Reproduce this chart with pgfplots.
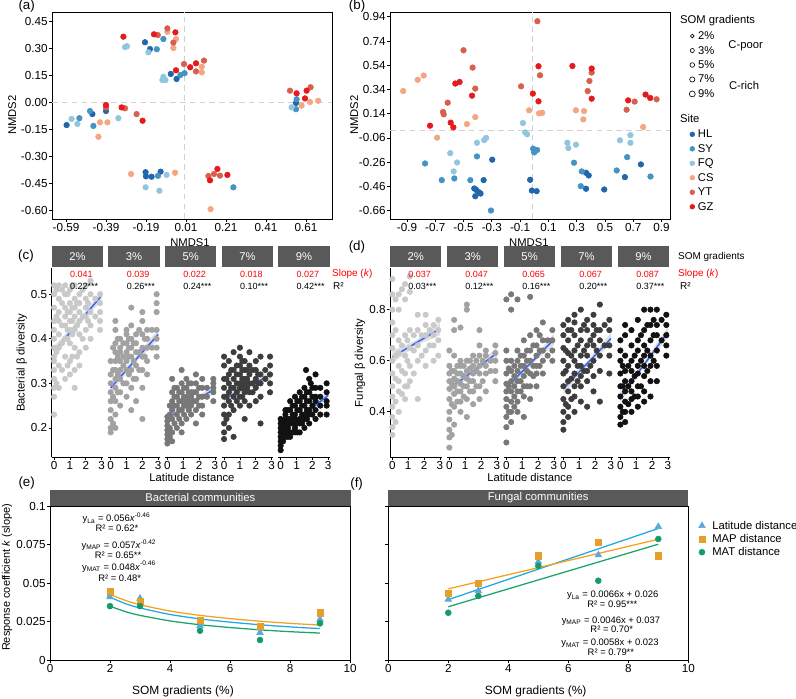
\documentclass[border=0pt]{standalone}
\usepackage{fontspec}
\setmainfont{Liberation Sans}
\usepackage{pgfplots}
\pgfplotsset{compat=1.18}

\definecolor{HL}{HTML}{2166AC}
\definecolor{SY}{HTML}{4393C3}
\definecolor{FQ}{HTML}{92C5DE}
\definecolor{CS}{HTML}{F4A582}
\definecolor{YT}{HTML}{D6604D}
\definecolor{GZ}{HTML}{E41A1C}
\definecolor{stripg}{HTML}{595959}
\definecolor{ga}{HTML}{C9C9C9}
\definecolor{gb}{HTML}{A2A2A2}
\definecolor{gc}{HTML}{787878}
\definecolor{gd}{HTML}{3D3D3D}
\definecolor{ge}{HTML}{111111}
\definecolor{smo}{HTML}{3366FF}
\definecolor{cLat}{HTML}{5BA8DC}
\definecolor{lLat}{HTML}{1FA8E8}
\definecolor{cMAP}{HTML}{E69F2A}
\definecolor{lMAP}{HTML}{F5A11C}
\definecolor{cMAT}{HTML}{139B6C}
\definecolor{lMAT}{HTML}{1AA36B}

\newcommand{\ticksz}{\fontsize{8.3}{9.5}\selectfont}
\newcommand{\labsz}{\fontsize{8}{9.5}\selectfont}
\newcommand{\smsz}{\fontsize{6.4}{7.5}\selectfont}
\newcommand{\midsz}{\fontsize{7.1}{8.5}\selectfont}
\newcommand{\annsz}{\fontsize{6.7}{8}\selectfont}
\newcommand{\pansz}{\fontsize{9.5}{11}\selectfont}

\pgfplotsset{
  base/.style={scale only axis, anchor=north west, font=\ticksz,
    /pgf/number format/assume math mode=true,
    tick align=outside, major tick length=2pt,
    tick style={black, line width=0.5pt},
    axis line style={line width=0.6pt},
    tick label style={inner sep=1pt},
    tick pos=left},
  fix2/.style={/pgf/number format/fixed, /pgf/number format/fixed zerofill, /pgf/number format/precision=2},
  fix1/.style={/pgf/number format/fixed, /pgf/number format/fixed zerofill, /pgf/number format/precision=1},
  sdot/.style={forget plot, only marks, mark=*, scatter, point meta=y,
    visualization depends on={\thisrow{s}\as\ms},
    scatter/@pre marker code/.append style={/tikz/mark size={1.1*\ms}},
    scatter/use mapped color={draw=#1, fill=#1}},
  facet/.style={base, width=1.2875cm, height=4.745cm, xmin=-0.15, xmax=3.1,
    xtick={0,1,2,3}, axis x line*=bottom, x axis line style={-}},
  fc/.style={facet, ymin=0.134, ymax=0.56, ytick={0.2,0.3,0.4,0.5}, yticklabel style={fix1}},
  fd/.style={facet, ymin=0.222, ymax=0.965, ytick={0.4,0.6,0.8}, yticklabel style={fix1}},
  first/.style={axis y line*=left, y axis line style={-}},
  rest/.style={hide y axis},
  pts/.style={only marks, mark=*, mark size=1.95pt, color=#1},
  band/.style={fill=black!40, draw=none, opacity=0.3},
  fitl/.style={color=smo, line width=1.1pt},
  legimg/.style={legend image code/.code={\path (0cm,0cm) (0.2cm,0cm); \draw[##1] plot coordinates {(0.1cm,0cm)};}},
}

\begin{document}
\begin{tikzpicture}
\useasboundingbox (0,0) rectangle (19.9cm,-17.45cm);

% ---------------- (a)
\begin{axis}[base, at={(1.3cm,-0.3cm)}, width=7cm, height=5.175cm,
  xmin=-0.66, xmax=0.74, ymin=-0.65, ymax=0.50,
  xtick={-0.59,-0.39,-0.19,0.01,0.21,0.41,0.61},
  ytick={-0.60,-0.45,-0.30,-0.15,0,0.15,0.30,0.45},
  xticklabel style={fix2}, yticklabel style={fix2},
  legimg, legend cell align=left,
  legend style={at={(axis description cs:2.2714,0.9145)}, anchor=north west, draw=none, fill=none,
    inner sep=0pt, outer sep=0pt, row sep=1.3pt, column sep=1pt, font=\labsz,
    nodes={inner sep=0pt, text height=7pt, text depth=2pt}}]
\addplot[forget plot, black!18, line width=0.7pt, dash pattern=on 4pt off 3pt] coordinates {(0,-0.65)(0,0.50)};
\addplot[forget plot, black!18, line width=0.7pt, dash pattern=on 4pt off 3pt] coordinates {(-0.66,0)(0.74,0)};
\addplot[sdot=HL] table[row sep=\\]{x y s\\
-0.195 0.332 1.9\\ -0.17 0.294 1.9\\ -0.066 0.156 1.75\\ -0.037 0.128 1.75\\ 0.56 -0.005 1.9\\
-0.587 -0.128 1.2\\ -0.458 -0.067 1.2\\ -0.39 -0.05 1.2\\ -0.192 -0.39 0.9\\ -0.19 -0.413 0.9\\
-0.162 -0.415 0.9\\ -0.117 -0.387 0.9\\};
\addplot[sdot=SY] table[row sep=\\]{x y s\\
-0.136 0.293 1.9\\ -0.103 0.35 1.9\\ 0.003 0.16 1.75\\ -0.018 0.15 1.75\\ 0.563 0.015 1.9\\
0.56 -0.04 1.9\\ -0.523 -0.09 1.2\\ -0.47 -0.05 1.2\\ -0.453 -0.133 1.2\\ -0.13 -0.41 0.9\\
0.247 -0.474 0.9\\};
\addplot[sdot=FQ] table[row sep=\\]{x y s\\
-0.285 0.31 1.9\\ -0.295 0.305 1.9\\ -0.178 0.276 1.9\\ -0.103 0.14 1.75\\ -0.108 0.122 1.75\\
-0.093 0.122 1.75\\ 0.538 -0.03 1.9\\ -0.562 -0.094 1.2\\ -0.533 -0.122 1.2\\ -0.328 -0.09 1.2\\
-0.087 -0.405 0.9\\ -0.192 -0.474 0.9\\ -0.123 -0.493 0.9\\};
\addplot[sdot=CS] table[row sep=\\]{x y s\\
-0.083 0.39 1.9\\ -0.04 0.35 1.9\\ -0.053 0.30 1.9\\ 0.089 0.196 1.75\\ 0.089 0.165 1.75\\
0.588 -0.02 1.9\\ 0.63 0.0 1.9\\ 0.671 0.007 1.9\\ -0.42 -0.113 1.2\\ -0.383 -0.113 1.2\\
-0.428 -0.193 1.2\\ -0.265 -0.40 0.9\\ -0.045 -0.393 0.9\\ 0.133 -0.595 0.9\\};
\addplot[sdot=YT] table[row sep=\\]{x y s\\
-0.131 0.372 1.9\\ -0.083 0.409 1.9\\ -0.053 0.33 1.9\\ 0.0 0.211 1.75\\ 0.06 0.17 1.75\\
0.10 0.23 1.75\\ 0.53 0.063 1.9\\ 0.633 0.082 1.9\\ -0.39 -0.03 1.2\\ -0.295 -0.035 1.2\\
-0.237 -0.067 1.2\\ 0.122 -0.411 0.9\\ 0.15 -0.40 0.9\\ 0.18 -0.409 0.9\\};
\addplot[sdot=GZ] table[row sep=\\]{x y s\\
-0.303 0.363 1.9\\ -0.15 0.376 1.9\\ -0.043 0.387 1.9\\ -0.04 0.176 1.75\\ 0.031 0.193 1.75\\
0.06 0.215 1.75\\ 0.563 0.048 1.9\\ 0.613 0.063 1.9\\ 0.605 0.02 1.9\\ -0.39 -0.017 1.2\\
-0.312 -0.03 1.2\\ -0.207 -0.104 1.2\\ 0.167 -0.372 0.9\\ 0.13 -0.435 0.9\\ 0.217 -0.405 0.9\\};
\addlegendimage{only marks, mark=o, mark size=1.3pt, black, line width=0.45pt}\addlegendentry{2\%}
\addlegendimage{only marks, mark=o, mark size=1.45pt, black, line width=0.45pt}\addlegendentry{3\%}
\addlegendimage{only marks, mark=o, mark size=1.65pt, black, line width=0.45pt}\addlegendentry{5\%}
\addlegendimage{only marks, mark=o, mark size=1.85pt, black, line width=0.45pt}\addlegendentry{7\%}
\addlegendimage{only marks, mark=o, mark size=2.1pt, black, line width=0.45pt}\addlegendentry{9\%}
\end{axis}

% ---------------- (b)
\begin{axis}[base, at={(9.75cm,-0.3cm)}, width=7cm, height=5.175cm,
  xmin=-1.02, xmax=0.96, ymin=-0.73, ymax=0.98,
  xtick={-0.9,-0.7,-0.5,-0.3,-0.1,0.1,0.3,0.5,0.7,0.9},
  ytick={-0.66,-0.46,-0.26,-0.06,0.14,0.34,0.54,0.74,0.94},
  xticklabel style={fix1}, yticklabel style={fix2},
  legimg, legend cell align=left,
  legend style={at={(axis description cs:1.0643,0.4396)}, anchor=north west, draw=none, fill=none,
    inner sep=0pt, outer sep=0pt, row sep=1.3pt, column sep=1pt, font=\labsz,
    nodes={inner sep=0pt, text height=7pt, text depth=2pt}}]
\addplot[forget plot, black!18, line width=0.7pt, dash pattern=on 4pt off 3pt] coordinates {(-0.01,-0.73)(-0.01,0.98)};
\addplot[forget plot, black!18, line width=0.7pt, dash pattern=on 4pt off 3pt] coordinates {(-1.02,0)(0.96,0)};
\addplot[sdot=HL] table[row sep=\\]{x y s\\
-0.297 -0.24 1.0\\ -0.358 -0.409 1.0\\ -0.424 -0.478 1.2\\ -0.41 -0.49 1.2\\ -0.39 -0.51 1.2\\
-0.417 -0.542 1.2\\ -0.38 -0.52 1.0\\ -0.029 -0.406 1.2\\ -0.017 -0.495 1.2\\ 0.017 -0.50 1.2\\
0.366 -0.348 1.5\\ 0.385 -0.37 1.5\\ 0.366 -0.48 1.5\\ 0.495 -0.486 2.0\\ 0.641 -0.384 1.8\\
0.754 -0.279 1.8\\};
\addplot[sdot=SY] table[row sep=\\]{x y s\\
-0.405 -0.213 1.0\\ -0.772 -0.271 1.0\\ -0.654 -0.409 1.2\\ -0.565 -0.395 1.2\\ -0.452 -0.409 1.2\\
-0.306 -0.66 1.0\\ -0.008 -0.149 1.2\\ 0.02 -0.16 1.2\\ 0.0 -0.18 1.2\\ 0.281 -0.265 1.5\\
0.336 -0.337 1.5\\ 0.329 -0.459 1.5\\ 0.657 -0.219 1.8\\ 0.583 -0.329 1.8\\ 0.822 -0.379 1.9\\};
\addplot[sdot=FQ] table[row sep=\\]{x y s\\
-0.405 -0.10 1.0\\ -0.354 -0.078 1.0\\ -0.34 -0.06 1.0\\ -0.594 -0.186 1.2\\ -0.546 -0.263 1.2\\
-0.57 -0.337 1.2\\ -0.08 0.063 1.2\\ -0.064 -0.014 1.2\\ -0.05 -0.03 1.2\\ 0.234 -0.10 1.5\\
0.241 -0.144 1.5\\ 0.295 -0.116 1.5\\ 0.606 -0.08 1.8\\ 0.68 -0.037 1.8\\ 0.68 -0.10 1.8\\};
\addplot[sdot=CS] table[row sep=\\]{x y s\\
-0.824 0.42 1.0\\ -0.782 0.455 1.0\\ -0.927 0.327 1.0\\ -0.417 0.112 1.2\\ -0.476 0.054 1.2\\
-0.687 -0.058 1.2\\ -0.036 0.168 1.2\\ 0.034 0.143 1.2\\ 0.056 0.147 1.2\\ 0.295 0.168 1.5\\
0.352 0.162 1.5\\ 0.347 0.093 1.5\\ 0.77 0.03 2.5\\};
\addplot[sdot=YT] table[row sep=\\]{x y s\\
-0.50 0.664 1.0\\ -0.436 0.521 1.0\\ -0.417 0.347 1.0\\ -0.612 0.231 1.2\\ -0.645 0.154 1.2\\
-0.64 0.135 1.2\\ 0.022 0.904 1.2\\ 0.041 0.457 1.2\\ -0.093 0.366 1.2\\ 0.406 0.48 1.6\\
0.39 0.41 1.6\\ 0.378 0.327 1.6\\ 0.653 0.173 1.8\\ 0.71 0.24 1.8\\ 0.865 0.259 1.8\\};
\addplot[sdot=GZ] table[row sep=\\]{x y s\\
-0.558 0.389 1.0\\ -0.528 0.402 1.0\\ -0.44 0.289 1.0\\ -0.591 0.066 1.2\\ -0.572 0.027 1.2\\
-0.737 0.041 1.2\\ 0.03 0.532 1.2\\ -0.01 0.306 1.2\\ 0.03 0.242 1.2\\ 0.27 0.534 1.6\\
0.406 0.513 1.6\\ 0.406 0.264 1.6\\ 0.664 0.25 1.8\\ 0.787 0.298 1.8\\ 0.82 0.27 1.8\\};
\addlegendimage{only marks, mark=*, mark size=1.7pt, HL}\addlegendentry{HL}
\addlegendimage{only marks, mark=*, mark size=1.7pt, SY}\addlegendentry{SY}
\addlegendimage{only marks, mark=*, mark size=1.7pt, FQ}\addlegendentry{FQ}
\addlegendimage{only marks, mark=*, mark size=1.7pt, CS}\addlegendentry{CS}
\addlegendimage{only marks, mark=*, mark size=1.7pt, YT}\addlegendentry{YT}
\addlegendimage{only marks, mark=*, mark size=1.7pt, GZ}\addlegendentry{GZ}
\end{axis}

% ---------------- (c) facets
\begin{axis}[fc, first, at={(1.2925cm,-6.6875cm)}]
\addplot[pts=ga] coordinates {(0,0.23)(0,0.27)(0,0.29)(0,0.31)(0,0.33)(0,0.35)(0,0.36)(0,0.38)(0,0.40)(0,0.42)(0,0.44)(0,0.47)(0,0.50)(0,0.52)
(0.3,0.29)(0.3,0.34)(0.3,0.38)(0.3,0.41)(0.3,0.44)(0.3,0.46)(0.3,0.49)(0.3,0.52)
(0.7,0.31)(0.7,0.36)(0.7,0.40)(0.7,0.43)(0.7,0.45)(0.7,0.47)(0.7,0.50)(0.7,0.52)
(1.0,0.32)(1.0,0.35)(1.0,0.39)(1.0,0.42)(1.0,0.44)(1.0,0.46)(1.0,0.48)(1.0,0.51)
(1.3,0.29)(1.3,0.33)(1.3,0.38)(1.3,0.42)(1.3,0.45)(1.3,0.47)(1.3,0.49)(1.3,0.52)
(1.6,0.34)(1.6,0.37)(1.6,0.41)(1.6,0.44)(1.6,0.46)(1.6,0.48)(1.6,0.50)
(2.0,0.38)(2.0,0.42)(2.0,0.45)(2.0,0.47)(2.0,0.49)(2.0,0.52)
(2.3,0.40)(2.3,0.43)(2.3,0.46)(2.3,0.50)(2.3,0.53)
(2.9,0.42)(2.9,0.44)(2.9,0.46)(2.9,0.48)(2.9,0.50)
(0.5,0.43)(0.85,0.46)(1.15,0.47)(0.5,0.48)(0.85,0.42)(1.15,0.44)(1.45,0.43)
(0.15,0.30)(0.15,0.37)(0.15,0.45)(0.15,0.51)(0.5,0.33)(0.5,0.39)(0.5,0.51)(0.85,0.34)(0.85,0.40)(0.85,0.50)(1.15,0.36)(1.15,0.41)(1.15,0.52)(1.45,0.36)(1.45,0.48)(1.8,0.40)(1.8,0.45)(1.8,0.51)(2.15,0.44)(2.15,0.48)(2.6,0.45)(2.6,0.49)};
\addplot[band] coordinates {(0,0.360)(1.5,0.4285)(3,0.485)(3,0.509)(1.5,0.4405)(0,0.384)};
\addplot[fitl] coordinates {(0,0.372)(3,0.497)};
\end{axis}
\begin{axis}[fc, rest, at={(2.7075cm,-6.6875cm)}]
\addplot[pts=gb] coordinates {(0,0.19)(0,0.20)(0,0.22)(0,0.24)(0,0.26)(0,0.28)(0,0.30)(0,0.32)(0,0.35)
(0.3,0.23)(0.3,0.26)(0.3,0.29)(0.3,0.31)(0.3,0.33)(0.3,0.35)(0.3,0.37)(0.3,0.39)(0.3,0.42)(0.3,0.44)
(0.6,0.25)(0.6,0.28)(0.6,0.31)(0.6,0.33)(0.6,0.35)(0.6,0.37)(0.6,0.38)(0.6,0.40)
(1.0,0.27)(1.0,0.30)(1.0,0.33)(1.0,0.35)(1.0,0.37)(1.0,0.39)(1.0,0.41)(1.0,0.42)
(1.3,0.24)(1.3,0.29)(1.3,0.33)(1.3,0.36)(1.3,0.38)(1.3,0.40)(1.3,0.43)(1.3,0.47)
(1.6,0.26)(1.6,0.31)(1.6,0.34)(1.6,0.37)(1.6,0.39)(1.6,0.41)
(2.0,0.22)(2.0,0.29)(2.0,0.33)(2.0,0.36)(2.0,0.38)(2.0,0.41)(2.0,0.44)(2.0,0.46)
(2.3,0.32)(2.3,0.35)(2.3,0.38)(2.3,0.40)(2.3,0.42)
(2.9,0.36)(2.9,0.38)(2.9,0.40)(2.9,0.42)(2.9,0.46)(2.9,0.48)(2.9,0.50)
(0.45,0.36)(0.8,0.36)(1.15,0.38)(0.45,0.32)(0.8,0.34)(1.15,0.36)(1.45,0.35)
(0.15,0.27)(0.15,0.33)(0.15,0.38)(0.45,0.28)(0.45,0.40)(0.8,0.30)(0.8,0.39)(1.15,0.32)(1.15,0.40)(1.45,0.31)(1.45,0.39)(1.8,0.33)(1.8,0.37)(1.8,0.42)(2.15,0.36)(2.15,0.40)(2.6,0.38)(2.6,0.42)(0.15,0.21)(0.3,0.20)};
\addplot[band] coordinates {(0,0.278)(1.5,0.344)(3,0.398)(3,0.422)(1.5,0.356)(0,0.302)};
\addplot[fitl] coordinates {(0,0.29)(3,0.41)};
\end{axis}
\begin{axis}[fc, rest, at={(4.125cm,-6.6875cm)}]
\addplot[pts=gc] coordinates {(0,0.165)(0,0.175)(0,0.185)(0,0.195)(0,0.205)(0,0.215)(0,0.225)
(0.3,0.19)(0.3,0.22)(0.3,0.24)(0.3,0.26)(0.3,0.28)(0.3,0.31)
(0.6,0.20)(0.6,0.23)(0.6,0.25)(0.6,0.27)(0.6,0.29)
(0.9,0.19)(0.9,0.21)(0.9,0.24)(0.9,0.26)(0.9,0.28)(0.9,0.30)(0.9,0.33)
(1.2,0.22)(1.2,0.25)(1.2,0.26)(1.2,0.27)(1.2,0.29)(1.2,0.31)
(1.5,0.23)(1.5,0.25)(1.5,0.27)(1.5,0.28)(1.5,0.30)
(1.8,0.21)(1.8,0.24)(1.8,0.26)(1.8,0.28)(1.8,0.30)(1.8,0.32)
(2.2,0.23)(2.2,0.25)(2.2,0.27)(2.2,0.29)(2.2,0.31)
(2.9,0.26)(2.9,0.28)(2.9,0.29)(2.9,0.30)(2.9,0.31)
(0.45,0.25)(0.75,0.26)(1.05,0.27)(1.35,0.26)(0.45,0.27)(0.75,0.24)(1.05,0.25)(1.35,0.28)
(0.15,0.18)(0.15,0.20)(0.15,0.23)(0.45,0.21)(0.45,0.29)(0.75,0.28)(0.75,0.22)(1.05,0.23)(1.05,0.29)(1.35,0.24)(1.35,0.30)(1.65,0.26)(1.65,0.28)(2.0,0.25)(2.0,0.27)(2.0,0.29)(2.5,0.27)(2.5,0.29)(0.3,0.17)(0.15,0.25)};
\addplot[band] coordinates {(0,0.212)(1.5,0.250)(3,0.278)(3,0.298)(1.5,0.260)(0,0.232)};
\addplot[fitl] coordinates {(0,0.222)(3,0.288)};
\end{axis}
\begin{axis}[fc, rest, at={(5.5425cm,-6.6875cm)}]
\addplot[pts=gd] coordinates {(0,0.175)(0,0.19)(0,0.21)(0,0.23)(0,0.25)(0,0.27)(0,0.29)(0,0.31)(0,0.34)(0,0.36)
(0.3,0.20)(0.3,0.23)(0.3,0.26)(0.3,0.28)(0.3,0.30)(0.3,0.32)(0.3,0.35)
(0.6,0.18)(0.6,0.24)(0.6,0.27)(0.6,0.29)(0.6,0.31)(0.6,0.33)(0.6,0.37)
(1.0,0.25)(1.0,0.27)(1.0,0.29)(1.0,0.30)(1.0,0.32)(1.0,0.34)(1.0,0.36)(1.0,0.38)
(1.3,0.22)(1.3,0.26)(1.3,0.28)(1.3,0.30)(1.3,0.31)(1.3,0.33)(1.3,0.35)
(1.6,0.25)(1.6,0.28)(1.6,0.30)(1.6,0.32)(1.6,0.34)(1.6,0.37)
(2.0,0.26)(2.0,0.29)(2.0,0.31)(2.0,0.33)(2.0,0.35)
(2.3,0.21)(2.3,0.27)(2.3,0.30)(2.3,0.32)(2.3,0.36)
(2.9,0.28)(2.9,0.30)(2.9,0.32)(2.9,0.34)(2.9,0.36)
(0.8,0.30)(1.15,0.31)(1.45,0.29)(0.45,0.29)(0.8,0.28)(1.15,0.33)
(0.15,0.22)(0.15,0.27)(0.15,0.31)(0.45,0.25)(0.45,0.33)(0.8,0.26)(0.8,0.32)(0.8,0.34)(1.15,0.27)(1.15,0.29)(1.15,0.35)(1.45,0.31)(1.45,0.33)(1.8,0.28)(1.8,0.30)(1.8,0.33)(2.15,0.30)(2.15,0.32)(2.6,0.31)(2.6,0.33)};
\addplot[band] coordinates {(0,0.255)(1.5,0.2875)(3,0.31)(3,0.33)(1.5,0.2975)(0,0.275)};
\addplot[fitl] coordinates {(0,0.265)(3,0.32)};
\end{axis}
\begin{axis}[fc, rest, at={(6.9575cm,-6.6875cm)}]
\addplot[pts=ge] coordinates {(0,0.15)(0,0.16)(0,0.17)(0,0.18)(0,0.19)(0,0.20)(0,0.21)(0,0.22)
(0.3,0.18)(0.3,0.19)(0.3,0.20)(0.3,0.21)(0.3,0.22)(0.3,0.23)(0.3,0.24)
(0.6,0.18)(0.6,0.19)(0.6,0.21)(0.6,0.22)(0.6,0.24)(0.6,0.26)
(0.9,0.19)(0.9,0.20)(0.9,0.22)(0.9,0.23)(0.9,0.25)(0.9,0.27)
(1.2,0.19)(1.2,0.21)(1.2,0.22)(1.2,0.24)(1.2,0.26)(1.2,0.28)
(1.5,0.20)(1.5,0.22)(1.5,0.23)(1.5,0.25)(1.5,0.27)(1.5,0.29)
(1.8,0.21)(1.8,0.23)(1.8,0.24)(1.8,0.26)(1.8,0.28)(1.8,0.31)
(2.2,0.22)(2.2,0.24)(2.2,0.26)(2.2,0.27)(2.2,0.29)(2.2,0.32)
(2.9,0.23)(2.9,0.25)(2.9,0.26)(2.9,0.28)(2.9,0.30)
(0.45,0.20)(0.75,0.21)(1.05,0.21)(1.35,0.23)(1.65,0.24)(0.45,0.22)(0.75,0.23)(1.05,0.24)(1.35,0.25)(1.65,0.26)(2.0,0.25)(2.5,0.27)(1.6,0.33)
(0.15,0.17)(0.15,0.19)(0.15,0.21)(0.45,0.18)(0.45,0.24)(0.75,0.19)(0.75,0.25)(1.05,0.19)(1.05,0.26)(1.35,0.21)(1.35,0.27)(1.65,0.22)(1.65,0.28)(2.0,0.23)(2.0,0.27)(2.0,0.29)(2.5,0.25)(2.5,0.29)(2.5,0.23)(1.9,0.30)};
\addplot[band] coordinates {(0,0.181)(1.5,0.2275)(3,0.264)(3,0.282)(1.5,0.2355)(0,0.199)};
\addplot[fitl] coordinates {(0,0.19)(3,0.273)};
\end{axis}

% ---------------- (d) facets
\begin{axis}[fd, first, at={(9.75cm,-6.6875cm)}]
\addplot[pts=ga] coordinates {(0,0.31)(0,0.34)(0,0.38)(0,0.42)(0,0.46)(0,0.50)(0,0.55)(0,0.60)(0,0.65)(0,0.70)(0,0.75)(0,0.80)(0,0.86)(0,0.92)
(0.4,0.40)(0.4,0.48)(0.4,0.52)(0.4,0.58)(0.4,0.63)(0.4,0.68)(0.4,0.80)(0.4,0.86)
(0.8,0.45)(0.8,0.50)(0.8,0.55)(0.8,0.62)(0.8,0.70)(0.8,0.84)(0.8,0.90)
(1.1,0.52)(1.1,0.58)(1.1,0.65)(1.1,0.72)(1.1,0.87)(1.1,0.93)
(1.6,0.45)(1.6,0.60)(1.6,0.66)(1.6,0.72)(1.6,0.78)
(2.1,0.58)(2.1,0.64)(2.1,0.70)(2.1,0.74)(2.1,0.78)
(2.6,0.60)(2.6,0.66)(2.6,0.70)(2.6,0.74)
(2.9,0.62)(2.9,0.68)(2.9,0.72)(2.9,0.76)
(0.2,0.36)(0.2,0.44)(0.2,0.53)(0.2,0.62)(0.2,0.72)(0.2,0.84)(0.6,0.47)(0.6,0.56)(0.6,0.66)(0.6,0.88)(0.95,0.50)(0.95,0.60)(0.95,0.68)(1.35,0.55)(1.35,0.64)(1.35,0.70)(1.85,0.62)(1.85,0.70)(2.35,0.66)(2.35,0.72)};
\addplot[band] coordinates {(0,0.59)(1.5,0.66)(3,0.70)(3,0.75)(1.5,0.68)(0,0.64)};
\addplot[fitl] coordinates {(0,0.615)(3,0.725)};
\end{axis}
\begin{axis}[fd, rest, at={(11.175cm,-6.6875cm)}]
\addplot[pts=gb] coordinates {(0,0.26)(0,0.30)(0,0.33)(0,0.37)(0,0.40)(0,0.45)(0,0.49)(0,0.52)(0,0.55)(0,0.58)(0,0.64)
(0.3,0.35)(0.3,0.42)(0.3,0.47)(0.3,0.50)(0.3,0.53)(0.3,0.56)(0.3,0.62)(0.3,0.72)(0.3,0.76)
(0.7,0.40)(0.7,0.44)(0.7,0.48)(0.7,0.51)(0.7,0.55)(0.7,0.58)(0.7,0.60)(0.7,0.73)
(1.1,0.38)(1.1,0.45)(1.1,0.50)(1.1,0.53)(1.1,0.56)(1.1,0.60)(1.1,0.80)(1.1,0.82)
(1.5,0.43)(1.5,0.48)(1.5,0.52)(1.5,0.55)(1.5,0.58)(1.5,0.62)
(1.9,0.45)(1.9,0.50)(1.9,0.55)(1.9,0.58)(1.9,0.62)(1.9,0.66)(1.9,0.72)
(2.3,0.48)(2.3,0.55)(2.3,0.58)(2.3,0.62)(2.3,0.64)
(2.9,0.52)(2.9,0.56)(2.9,0.60)(2.9,0.63)(2.9,0.66)
(0.5,0.52)(0.9,0.54)(1.3,0.57)(0.5,0.58)(0.9,0.50)(1.3,0.52)
(0.15,0.31)(0.15,0.43)(0.15,0.51)(0.5,0.44)(0.5,0.48)(0.5,0.55)(0.9,0.46)(0.9,0.58)(1.3,0.48)(1.3,0.60)(1.7,0.50)(1.7,0.56)(1.7,0.60)(2.1,0.52)(2.1,0.60)(2.6,0.56)(2.6,0.60)(0.15,0.56)};
\addplot[band] coordinates {(0,0.468)(1.5,0.551)(3,0.608)(3,0.652)(1.5,0.569)(0,0.512)};
\addplot[fitl] coordinates {(0,0.49)(3,0.63)};
\end{axis}
\begin{axis}[fd, rest, at={(12.6cm,-6.6875cm)}]
\addplot[pts=gc] coordinates {(0,0.28)(0,0.34)(0,0.38)(0,0.42)(0,0.45)(0,0.48)(0,0.51)(0,0.55)(0,0.60)(0,0.64)(0,0.84)
(0.3,0.36)(0.3,0.40)(0.3,0.44)(0.3,0.48)(0.3,0.52)(0.3,0.56)(0.3,0.60)(0.3,0.80)(0.3,0.86)
(0.7,0.40)(0.7,0.44)(0.7,0.48)(0.7,0.52)(0.7,0.56)(0.7,0.60)(0.7,0.64)(0.7,0.84)
(1.1,0.38)(1.1,0.46)(1.1,0.50)(1.1,0.54)(1.1,0.58)(1.1,0.62)(1.1,0.68)
(1.5,0.45)(1.5,0.50)(1.5,0.55)(1.5,0.60)(1.5,0.64)(1.5,0.70)(1.5,0.85)
(1.9,0.50)(1.9,0.55)(1.9,0.58)(1.9,0.62)(1.9,0.66)(1.9,0.72)
(2.3,0.55)(2.3,0.60)(2.3,0.64)(2.3,0.68)(2.3,0.75)
(2.9,0.60)(2.9,0.64)(2.9,0.68)(2.9,0.72)
(0.5,0.50)(0.9,0.52)(1.3,0.56)(0.5,0.46)(0.9,0.58)(1.3,0.60)
(0.15,0.40)(0.15,0.50)(0.15,0.57)(0.5,0.42)(0.5,0.54)(0.5,0.58)(0.9,0.48)(0.9,0.62)(1.3,0.50)(1.3,0.64)(1.7,0.54)(1.7,0.58)(1.7,0.66)(2.1,0.58)(2.1,0.64)(2.1,0.70)(2.6,0.62)(2.6,0.68)};
\addplot[band] coordinates {(0,0.473)(1.5,0.58)(3,0.661)(3,0.705)(1.5,0.598)(0,0.517)};
\addplot[fitl] coordinates {(0,0.495)(3,0.683)};
\end{axis}
\begin{axis}[fd, rest, at={(14.025cm,-6.6875cm)}]
\addplot[pts=gd] coordinates {(0,0.33)(0,0.36)(0,0.40)(0,0.45)(0,0.50)(0,0.55)(0,0.60)(0,0.65)(0,0.70)(0,0.74)
(0.3,0.38)(0.3,0.42)(0.3,0.48)(0.3,0.52)(0.3,0.58)(0.3,0.63)(0.3,0.68)(0.3,0.72)(0.3,0.76)
(0.7,0.40)(0.7,0.46)(0.7,0.50)(0.7,0.55)(0.7,0.60)(0.7,0.64)(0.7,0.70)(0.7,0.75)(0.7,0.78)
(1.1,0.44)(1.1,0.50)(1.1,0.54)(1.1,0.58)(1.1,0.62)(1.1,0.68)(1.1,0.72)(1.1,0.80)
(1.5,0.42)(1.5,0.52)(1.5,0.56)(1.5,0.62)(1.5,0.66)(1.5,0.72)(1.5,0.76)
(1.9,0.48)(1.9,0.54)(1.9,0.60)(1.9,0.66)(1.9,0.70)(1.9,0.74)(1.9,0.78)
(2.3,0.44)(2.3,0.56)(2.3,0.62)(2.3,0.68)(2.3,0.72)(2.3,0.82)
(2.9,0.55)(2.9,0.62)(2.9,0.66)(2.9,0.72)(2.9,0.76)
(0.15,0.43)(0.15,0.56)(0.15,0.64)(0.5,0.45)(0.5,0.53)(0.5,0.62)(0.5,0.72)(0.9,0.52)(0.9,0.58)(0.9,0.66)(1.3,0.56)(1.3,0.64)(1.3,0.74)(1.7,0.58)(1.7,0.68)(2.1,0.64)(2.1,0.72)(2.6,0.66)(2.6,0.74)};
\addplot[band] coordinates {(0,0.469)(1.5,0.58)(3,0.665)(3,0.709)(1.5,0.598)(0,0.513)};
\addplot[fitl] coordinates {(0,0.491)(3,0.687)};
\end{axis}
\begin{axis}[fd, rest, at={(15.45cm,-6.6875cm)}]
\addplot[pts=ge] coordinates {(0,0.35)(0,0.38)(0,0.42)(0,0.46)(0,0.50)(0,0.55)(0,0.60)(0,0.64)(0,0.68)
(0.3,0.36)(0.3,0.40)(0.3,0.44)(0.3,0.48)(0.3,0.52)(0.3,0.56)(0.3,0.62)(0.3,0.70)(0.3,0.74)
(0.7,0.40)(0.7,0.45)(0.7,0.48)(0.7,0.52)(0.7,0.56)(0.7,0.60)(0.7,0.66)(0.7,0.72)
(1.1,0.42)(1.1,0.46)(1.1,0.50)(1.1,0.55)(1.1,0.58)(1.1,0.64)(1.1,0.68)(1.1,0.76)
(1.5,0.44)(1.5,0.48)(1.5,0.54)(1.5,0.58)(1.5,0.62)(1.5,0.66)(1.5,0.72)(1.5,0.80)
(1.9,0.46)(1.9,0.52)(1.9,0.58)(1.9,0.62)(1.9,0.68)(1.9,0.74)(1.9,0.80)
(2.3,0.52)(2.3,0.58)(2.3,0.64)(2.3,0.70)(2.3,0.74)(2.3,0.80)
(2.9,0.62)(2.9,0.66)(2.9,0.70)(2.9,0.74)(2.9,0.78)
(0.15,0.40)(0.15,0.50)(0.15,0.58)(0.5,0.43)(0.5,0.50)(0.5,0.58)(0.9,0.46)(0.9,0.54)(0.9,0.62)(1.3,0.50)(1.3,0.60)(1.3,0.70)(1.7,0.56)(1.7,0.64)(1.7,0.74)(2.1,0.60)(2.1,0.70)(2.1,0.76)(2.6,0.68)(2.6,0.76)};
\addplot[band] coordinates {(0,0.437)(1.5,0.5765)(3,0.69)(3,0.734)(1.5,0.5945)(0,0.481)};
\addplot[fitl] coordinates {(0,0.459)(3,0.712)};
\end{axis}

% ---------------- (e)
\begin{axis}[base, at={(1.25cm,-12.65cm)}, width=7.5cm, height=3.85cm,
  xmin=0, xmax=10, ymin=0, ymax=0.1, xtick={0,2,4,6,8,10},
  ytick={0,0.025,0.05,0.075,0.1}, yticklabels={0,0.025,0.05,0.075,0.1}]
\addplot[forget plot, lMAP, line width=0.9pt, smooth] coordinates {(1.9,0.0435)(2.5,0.0388)(3,0.0359)(4,0.0318)(5,0.0290)(6,0.0269)(7,0.0252)(8,0.0238)(9,0.0227)};
\addplot[forget plot, lLat, line width=0.9pt, smooth] coordinates {(1.9,0.0417)(2.5,0.0367)(3,0.0338)(4,0.0296)(5,0.0267)(6,0.0246)(7,0.0229)(8,0.0215)(9,0.0204)};
\addplot[forget plot, lMAT, line width=0.9pt, smooth] coordinates {(1.9,0.0357)(2.5,0.0315)(3,0.0290)(4,0.0254)(5,0.0229)(6,0.0211)(7,0.0196)(8,0.0184)(9,0.0175)};
\addplot[forget plot, only marks, mark=triangle*, mark size=2.7pt, color=cLat] coordinates {(2,0.041)(3,0.040)(5,0.0223)(7,0.0178)(9,0.0264)};
\addplot[forget plot, only marks, mark=square*, mark size=2.2pt, color=cMAP] coordinates {(2,0.0448)(3,0.038)(5,0.026)(7,0.022)(9,0.0307)};
\addplot[forget plot, only marks, mark=*, mark size=2.1pt, color=cMAT] coordinates {(2,0.035)(3,0.035)(5,0.019)(7,0.013)(9,0.0238)};
\node[font=\annsz] at (axis cs:2.22,0.092) {y\textsubscript{La} = 0.056\textit{x}\textsuperscript{-0.46}};
\node[font=\annsz] at (axis cs:2.23,0.0855) {R² = 0.62*};
\node[font=\annsz] at (axis cs:2.3,0.0747) {y\textsubscript{MAP} = 0.057\textit{x}\textsuperscript{-0.42}};
\node[font=\annsz] at (axis cs:2.27,0.0682) {R² = 0.65**};
\node[font=\annsz] at (axis cs:2.3,0.0606) {y\textsubscript{MAT} = 0.048\textit{x}\textsuperscript{-0.46}};
\node[font=\annsz] at (axis cs:2.32,0.053) {R² = 0.48*};
\end{axis}

% ---------------- (f)
\begin{axis}[base, at={(9.7075cm,-12.65cm)}, width=7.5cm, height=3.85cm,
  xmin=0, xmax=10, ymin=0, ymax=0.1, xtick={0,2,4,6,8,10},
  ytick={0,0.025,0.05,0.075,0.1}, yticklabels={},
  legimg, legend cell align=left,
  legend style={at={(axis description cs:1.0313,0.911)}, anchor=north west, draw=none, fill=none,
    inner sep=0pt, outer sep=0pt, row sep=0.8pt, column sep=4.3pt, font=\labsz,
    nodes={inner sep=0pt, text height=6.8pt, text depth=1.8pt}}]
\addplot[forget plot, lLat, line width=0.9pt] coordinates {(2,0.0392)(9,0.0854)};
\addplot[forget plot, lMAP, line width=0.9pt] coordinates {(2,0.0462)(9,0.0784)};
\addplot[forget plot, lMAT, line width=0.9pt] coordinates {(2,0.0346)(9,0.0752)};
\addplot[only marks, mark=triangle*, mark size=2.7pt, color=cLat] coordinates {(2,0.0394)(3,0.045)(5,0.0638)(7,0.0682)(9,0.0866)};
\addlegendentry{Latitude distance}
\addplot[only marks, mark=square*, mark size=2.2pt, color=cMAP] coordinates {(2,0.0433)(3,0.0498)(5,0.0677)(7,0.0764)(9,0.0677)};
\addlegendentry{MAP distance}
\addplot[only marks, mark=*, mark size=2.1pt, color=cMAT] coordinates {(2,0.0307)(3,0.0416)(5,0.0612)(7,0.0515)(9,0.0786)};
\addlegendentry{MAT distance}
\node[font=\annsz] at (axis cs:7.48,0.0418) {y\textsubscript{La} = 0.0066x + 0.026};
\node[font=\annsz] at (axis cs:7.47,0.0362) {R² = 0.95***};
\node[font=\annsz] at (axis cs:7.42,0.0253) {y\textsubscript{MAP} = 0.0046x + 0.037};
\node[font=\annsz] at (axis cs:7.45,0.0197) {R² = 0.70*};
\node[font=\annsz] at (axis cs:7.39,0.0108) {y\textsubscript{MAT} = 0.0058x + 0.023};
\node[font=\annsz] at (axis cs:7.42,0.0052) {R² = 0.79**};
\end{axis}

% ---------------- decorations (px units, y down)
\begin{scope}[x=0.025cm, y=-0.025cm]
\node[font=\pansz] at (26.7,6) {(a)};
\node[font=\pansz] at (357.2,6) {(b)};
\node[font=\pansz] at (26,256) {(c)};
\node[font=\pansz] at (357,247) {(d)};
\node[font=\pansz] at (26.7,483.3) {(e)};
\node[font=\pansz] at (356.7,484.3) {(f)};

\node[font=\labsz] at (190,243) {NMDS1};
\node[font=\labsz] at (529,243) {NMDS1};
\node[font=\labsz, rotate=90] at (12.3,115) {NMDS2};
\node[font=\labsz, rotate=90] at (354.3,115) {NMDS2};
\node[font=\labsz, rotate=90] at (21.7,363) {Bacterial β diversity};
\node[font=\labsz, rotate=90] at (360,363) {Fungal β diversity};
\node[font=\labsz] at (192,478) {Latitude distance};
\node[font=\labsz] at (530,478) {Latitude distance};
\node[font=\fontsize{7.8}{9}\selectfont, rotate=90] at (7,577.5) {Response coefficient \textit{k} (slope)};
\node[font=\fontsize{8.5}{10}\selectfont] at (183,692) {SOM gradients (\%)};
\node[font=\fontsize{8.5}{10}\selectfont] at (535.8,692) {SOM gradients (\%)};

\node[font=\labsz, anchor=west, inner sep=0pt] at (680,21) {SOM gradients};
\node[font=\labsz, anchor=west, inner sep=0pt] at (728.3,45.7) {C-poor};
\node[font=\labsz, anchor=west, inner sep=0pt] at (729,85.7) {C-rich};
\node[font=\labsz, anchor=west, inner sep=0pt] at (680,119) {Site};

\foreach \xs/\lab/\sk/\rr in {51.7/2/0.041/0.22, 108.3/3/0.039/0.26, 165/5/0.022/0.24, 221.7/7/0.018/0.10, 278.3/9/0.027/0.42}{
  \fill[stripg] (\xs,246) rectangle ++(51.5,21);
  \node[font=\labsz, white] at (\xs+25.75,256.5) {\lab\%};
  \node[font=\smsz, red, anchor=west, inner sep=0pt] at (\xs+18.2,274.3) {\sk};
  \node[font=\smsz, anchor=west, inner sep=0pt] at (\xs+18.2,286) {\rr***};
}
\foreach \xs/\lab/\sk/\rr in {390/2/0.037/0.03, 447/3/0.047/0.12, 504/5/0.065/0.16, 561/7/0.067/0.20, 618/9/0.087/0.37}{
  \fill[stripg] (\xs,246) rectangle ++(51.5,21);
  \node[font=\labsz, white] at (\xs+25.75,256.5) {\lab\%};
  \node[font=\smsz, red, anchor=west, inner sep=0pt] at (\xs+18.2,274.3) {\sk};
  \node[font=\smsz, anchor=west, inner sep=0pt] at (\xs+18.2,286) {\rr***};
}
\node[font=\midsz, red, anchor=west, inner sep=0pt] at (332,274.3) {Slope (\textit{k})};
\node[font=\midsz, anchor=west, inner sep=0pt] at (333,286) {R²};
\node[font=\midsz, anchor=west, inner sep=0pt] at (678,257) {SOM gradients};
\node[font=\midsz, red, anchor=west, inner sep=0pt] at (678,274.3) {Slope (\textit{k})};
\node[font=\midsz, anchor=west, inner sep=0pt] at (680,286) {R²};

\fill[stripg] (50,490) rectangle (350.7,506);
\node[font=\labsz, white] at (200.35,498) {Bacterial communities};
\fill[stripg] (388.3,490) rectangle (688.3,506);
\node[font=\labsz, white] at (538.3,498) {Fungal communities};
\end{scope}
\end{tikzpicture}
\end{document}
